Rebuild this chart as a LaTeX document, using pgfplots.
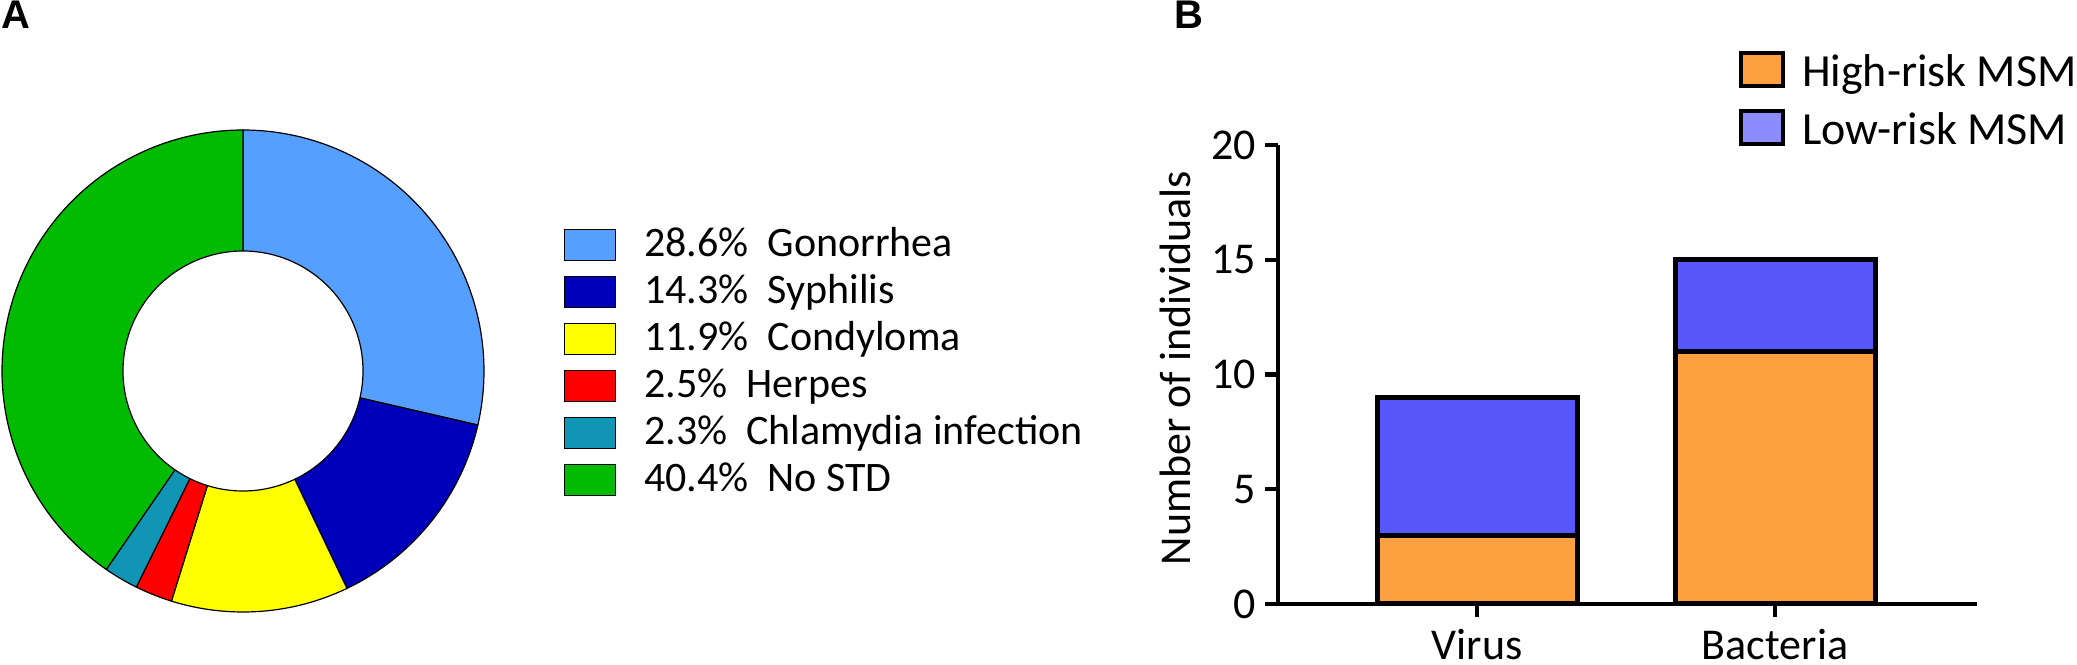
\documentclass[border=0pt]{standalone}
\usepackage{fontspec}
\setmainfont{Carlito}
\newfontfamily\arialfont{Liberation Sans}
\usepackage{pgfplots}
\pgfplotsset{compat=1.18}
\definecolor{cGon}{RGB}{85,160,255}
\definecolor{cSyp}{RGB}{0,0,187}
\definecolor{cCon}{RGB}{255,255,0}
\definecolor{cHer}{RGB}{255,0,0}
\definecolor{cChl}{RGB}{16,150,180}
\definecolor{cNo}{RGB}{0,187,0}
\definecolor{hiorange}{RGB}{255,160,64}
\definecolor{lobar}{RGB}{88,88,250}
\definecolor{loleg}{RGB}{140,140,255}
% donut data (percent)
\def\pGon{28.6}
\def\pSyp{14.3}
\def\pCon{11.9}
\def\pHer{2.5}
\def\pChl{2.3}
\def\pNo{40.4}
\pgfmathsetmacro\aA{90}
\pgfmathsetmacro\aB{\aA-3.6*\pGon}
\pgfmathsetmacro\aC{\aB-3.6*\pSyp}
\pgfmathsetmacro\aD{\aC-3.6*\pCon}
\pgfmathsetmacro\aE{\aD-3.6*\pHer}
\pgfmathsetmacro\aF{\aE-3.6*\pChl}
\pgfmathsetmacro\aG{\aF-3.6*\pNo}
\begin{document}
\begin{tikzpicture}
\path[use as bounding box] (0,0) rectangle (1038.5bp,332.5bp);
\node[anchor=base west, inner sep=0pt, font=\arialfont\bfseries\fontsize{20bp}{24bp}\selectfont] at (0.5bp,318bp) {A};
\node[anchor=base west, inner sep=0pt, font=\arialfont\bfseries\fontsize{20bp}{24bp}\selectfont] at (587bp,318bp) {B};
\begin{axis}[at={(1bp,26.5bp)}, anchor=south west, scale only axis,
  width=241bp, height=241bp, xmin=-1, xmax=1, ymin=-1, ymax=1,
  hide axis, clip=false,
  legend cell align=left,
  legend style={at={(1.166,0.8102)}, anchor=north west, draw=none, fill=none,
    inner sep=0pt, outer sep=0pt, row sep=0pt,
    font=\fontsize{21bp}{25bp}\selectfont,
    nodes={inner sep=0pt, text height=17.75bp, text depth=5.75bp},
    /tikz/every odd column/.append style={column sep=14bp}},
  legend image code/.code={\draw[#1, line width=0.6bp] (0bp,-7.75bp) rectangle (25.5bp,7.75bp);},
  every axis plot/.append style={draw=black, line width=0.6bp, samples=80}
]
\addplot[fill=cGon, domain=\aB:\aA] ({cos(x)},{sin(x)}) -- (axis cs:0,0) -- cycle;
\addlegendentry{28.6\%\ \ Gonorrhea}
\addplot[fill=cSyp, domain=\aC:\aB] ({cos(x)},{sin(x)}) -- (axis cs:0,0) -- cycle;
\addlegendentry{14.3\%\ \ Syphilis}
\addplot[fill=cCon, domain=\aD:\aC] ({cos(x)},{sin(x)}) -- (axis cs:0,0) -- cycle;
\addlegendentry{11.9\%\ \ Condyloma}
\addplot[fill=cHer, domain=\aE:\aD, samples=10] ({cos(x)},{sin(x)}) -- (axis cs:0,0) -- cycle;
\addlegendentry{2.5\%\ \ Herpes}
\addplot[fill=cChl, domain=\aF:\aE, samples=10] ({cos(x)},{sin(x)}) -- (axis cs:0,0) -- cycle;
\addlegendentry{2.3\%\ \ Chlamydia infection}
\addplot[fill=cNo, domain=\aG:\aF, samples=120] ({cos(x)},{sin(x)}) -- (axis cs:0,0) -- cycle;
\addlegendentry{40.4\%\ \ No STD}
\addplot[fill=white, domain=0:360, samples=160, forget plot] ({0.498*cos(x)},{0.498*sin(x)}) -- cycle;
\end{axis}
\begin{axis}[at={(639bp,30.5bp)}, anchor=south west, scale only axis,
  width=349.5bp, height=229.5bp,
  xmin=0.332, xmax=2.678, ymin=0, ymax=20,
  ybar stacked, bar width=100bp,
  axis x line*=bottom, axis y line*=left,
  axis line style={line width=2.2bp, -},
  xtick={1,2}, xticklabels={Virus,Bacteria}, ytick={0,5,10,15,20},
  tick align=outside, major tick length=6.5bp,
  tick style={line width=2.2bp, black},
  /pgf/number format/assume math mode=true,
  ticklabel style={font=\fontsize{22bp}{26bp}\selectfont},
  yticklabel style={inner sep=0pt, anchor=east, xshift=-4.5bp},
  xticklabel style={inner sep=0pt, anchor=base, yshift=-21bp},
  ylabel={Number of individuals},
  ylabel style={font=\fontsize{22bp}{26bp}\selectfont, at={(axis description cs:-0.1259,0.514)}, anchor=base},
  legend cell align=left,
  legend style={at={(0.6595,1.2277)}, anchor=north west, draw=none, fill=none,
    inner sep=0pt, outer sep=0pt, row sep=0pt,
    font=\fontsize{23bp}{27bp}\selectfont,
    nodes={inner sep=0pt, text height=23.25bp, text depth=5.75bp},
    /tikz/every odd column/.append style={column sep=8.5bp}},
]
\addplot[fill=hiorange, draw=black, line width=2.5bp,
  legend image code/.code={\draw[fill=hiorange, draw=black, line width=2bp] (0bp,-8.25bp) rectangle (21bp,8.25bp);}]
  coordinates {(1,3) (2,11)};
\addplot[fill=lobar, draw=black, line width=2.5bp,
  legend image code/.code={\draw[fill=loleg, draw=black, line width=2bp] (0bp,-8.25bp) rectangle (21bp,8.25bp);}]
  coordinates {(1,6) (2,4)};
\legend{High-risk MSM, Low-risk MSM}
\end{axis}
\end{tikzpicture}
\end{document}
